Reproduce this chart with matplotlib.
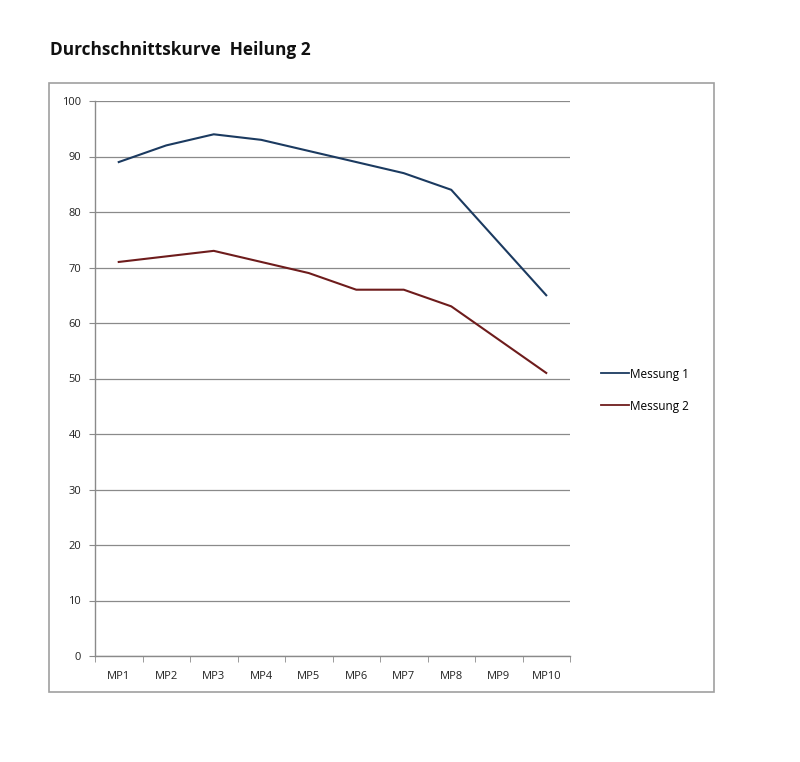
import matplotlib
matplotlib.use("Agg")
import matplotlib.pyplot as plt
from matplotlib.patches import Rectangle
from matplotlib.ticker import MultipleLocator

categories = ["MP1", "MP2", "MP3", "MP4", "MP5", "MP6", "MP7", "MP8", "MP9", "MP10"]
messung1 = [89, 92, 94, 93, 91, 89, 87, 84, 74.5, 65]
messung2 = [71, 72, 73, 71, 69, 66, 66, 63, 57, 51]
series_names = ["Messung 1", "Messung 2"]
title = "Durchschnittskurve  Heilung 2"

W, H = 800, 762
fig = plt.figure(figsize=(W / 100, H / 100), dpi=100)
fig.patch.set_facecolor("white")

# outer chart frame
fig.patches.append(Rectangle((49 / W, 1 - 692 / H), (714 - 49) / W, (692 - 83) / H,
                             transform=fig.transFigure, fill=False,
                             edgecolor="#a0a0a0", linewidth=1.2))

fig.text(50 / W, 1 - 50 / H, title, fontsize=12.4, fontweight="bold",
         family=["Open Sans", "DejaVu Sans"], va="center", ha="left", color="#111111")

ax = fig.add_axes([95 / W, 1 - 656 / H, (570 - 95) / W, (656 - 101) / H])
x = list(range(len(categories)))
ax.plot(x, messung1, color="#1b3a60", linewidth=1.5, label=series_names[0])
ax.plot(x, messung2, color="#6e1c1c", linewidth=1.5, label=series_names[1])

ax.set_ylim(0, 100)
ax.set_xlim(-0.5, len(categories) - 0.5)
ax.yaxis.set_major_locator(MultipleLocator(10))
ax.grid(axis="y", color="#8a8a8a", linewidth=0.9)
ax.set_axisbelow(True)
ax.set_xticks(x)
ax.set_xticklabels(categories)
ax.set_xticks([i - 0.5 for i in range(len(categories) + 1)], minor=True)
ax.tick_params(axis="x", which="major", length=0, pad=11, labelsize=8, colors="#222222")
ax.tick_params(axis="x", which="minor", length=4, color="#8a8a8a", direction="out")
ax.tick_params(axis="y", length=4, color="#8a8a8a", labelsize=8, labelcolor="#222222", pad=6)
for lab in ax.get_xticklabels() + ax.get_yticklabels():
    lab.set_family(["Open Sans", "DejaVu Sans"])
for s in ["top", "right"]:
    ax.spines[s].set_visible(False)
for s in ["left", "bottom"]:
    ax.spines[s].set_color("#8a8a8a")
    ax.spines[s].set_linewidth(1.0)

leg = fig.legend(loc="upper left", bbox_to_anchor=(590 / W, 1 - 357 / H),
                 frameon=False, fontsize=8.5, handlelength=2.4, handletextpad=0.1,
                 labelspacing=1.6, prop={"family": ["Open Sans", "DejaVu Sans"], "size": 8.5})
for line in leg.get_lines():
    line.set_linewidth(1.3)

fig.savefig("out.png", dpi=100, facecolor="white")
